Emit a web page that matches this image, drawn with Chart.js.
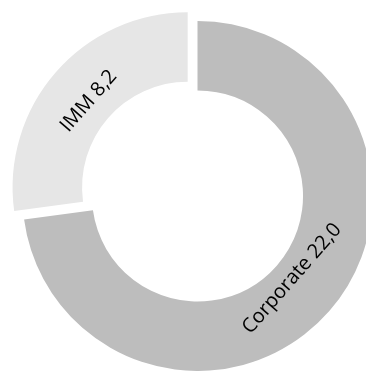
<!DOCTYPE html>
<html>
<head>
<meta charset="utf-8">
<script src="https://cdn.jsdelivr.net/npm/chart.js@4"></script>
<style>
    html, body { margin: 0; padding: 0; background: #ffffff; overflow: hidden; }
    #chart { display: block; }
</style>
</head>
<body>
<canvas id="chart" width="366" height="371"></canvas>
<script>
// Share split (bn)
const categories = ['Corporate', 'IMM'];
const values = [22.0, 8.2];

const SLICE_COLORS = ['#bdbdbd', '#e6e6e6'];

/**
 * Format a value with a decimal comma, e.g. 22,0
 */
function formatValue(v) {
    return v.toFixed(1).replace('.', ',');
}

// Writes "Category value" along each ring segment, kept upright
const ringLabels = {
    id: 'ringLabels',
    afterDatasetsDraw(chart) {
        const ctx = chart.ctx;
        const meta = chart.getDatasetMeta(0);
        ctx.save();
        ctx.font = '20px "Open Sans"';
        ctx.fillStyle = '#000000';
        ctx.textAlign = 'center';
        ctx.textBaseline = 'middle';
        meta.data.forEach((arc, i) => {
            const mid = (arc.startAngle + arc.endAngle) / 2;
            const shift = (arc.options.offset || 0) / 4;
            const r = arc.innerRadius + (arc.outerRadius - arc.innerRadius) * 0.33 + shift;
            const x = arc.x + Math.cos(mid) * r;
            const y = arc.y + Math.sin(mid) * r;
            let rot = mid - Math.PI / 2;
            // flip text that would otherwise read upside down
            while (rot > Math.PI / 2) rot -= Math.PI;
            while (rot < -Math.PI / 2) rot += Math.PI;
            ctx.save();
            ctx.translate(x, y);
            ctx.rotate(rot);
            ctx.fillText(categories[i] + ' ' + formatValue(values[i]), 0, -3);
            ctx.restore();
        });
        ctx.restore();
    }
};

new Chart(document.getElementById('chart'), {
    type: 'doughnut',
    data: {
        labels: categories,
        datasets: [{
            data: values,
            backgroundColor: SLICE_COLORS,
            borderWidth: 0,
            offset: [0, 52],
            clip: false
        }]
    },
    options: {
        responsive: false,
        animation: false,
        radius: 175,
        cutout: '60.3%',
        layout: {
            padding: { left: 29, right: 0, top: 21, bottom: 0 }
        },
        plugins: {
            legend: { display: false },
            tooltip: { enabled: false }
        }
    },
    plugins: [ringLabels]
});
</script>
</body>
</html>
